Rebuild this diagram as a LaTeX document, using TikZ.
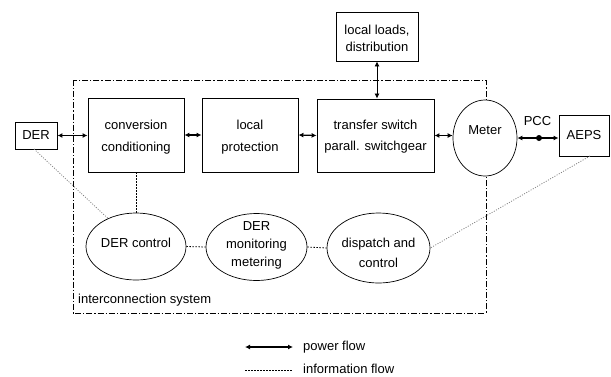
\documentclass[tikz,border=0pt]{standalone}
\usepackage{fontspec}
\setmainfont{Liberation Sans}
\usetikzlibrary{arrows.meta,shapes.geometric}
\begin{document}
\begin{tikzpicture}[x=1pt,y=-1pt,
  every node/.style={font=\fontsize{13}{22}\selectfont, align=center, inner sep=0pt},
  boxnode/.style={draw, line width=0.9pt, rectangle},
  ellnode/.style={draw, line width=0.7pt, ellipse, fill=white},
  tight/.style={font=\fontsize{13}{18}\selectfont},
  power/.style={line width=1.2pt, {Latex[length=5pt,width=5pt]}-{Latex[length=5pt,width=5pt]}},
  powerthin/.style={line width=0.8pt, {Latex[length=5pt,width=5pt]}-{Latex[length=5pt,width=5pt]}},
  info/.style={line width=0.8pt, dash pattern=on 1.5pt off 1.5pt},
  infogray/.style={line width=0.8pt, gray, dash pattern=on 1pt off 1.5pt},
  frame/.style={line width=0.8pt, dash pattern=on 6pt off 2pt on 1.2pt off 2pt}]
\useasboundingbox (0,0) rectangle (611,376);
\draw[frame] (73,80) rectangle (486,313);
\node[boxnode, minimum width=42pt, minimum height=27pt] (der) at (36,135.5) {DER};
\node[boxnode, minimum width=96pt, minimum height=74pt] (conv) at (136,135) {};
\node (convt) at (136,137) {conversion\\conditioning};
\node[boxnode, minimum width=96pt, minimum height=74pt] (prot) at (250,135) {};
\node (prott) at (250,137) {local\\protection};
\node[boxnode, minimum width=117pt, minimum height=73pt] (trans) at (375.5,135.5) {};
\node[font=\fontsize{13}{21}\selectfont] (transt) at (375.5,136.5) {transfer switch\\parall. switchgear};
\node[ellnode, minimum width=64pt, minimum height=76pt] (meter) at (485,138) {};
\node (metert) at (485,130) {Meter};
\node[boxnode, minimum width=50pt, minimum height=41pt] (aeps) at (584,135.5) {AEPS};
\node[boxnode, minimum width=82pt, minimum height=49pt] (loads) at (377,36.5) {};
\node[font=\fontsize{13}{17}\selectfont] (loadst) at (377,38.5) {local loads,\\distribution};
\node[ellnode, minimum width=100pt, minimum height=67pt] (derc) at (136,246.5) {};
\node (derct) at (136,243) {DER control};
\node[ellnode, minimum width=101pt, minimum height=67pt] (mon) at (256.5,247) {};
\node[tight] (mont) at (256.5,245) {DER\\monitoring\\metering};
\node[ellnode, minimum width=103pt, minimum height=70pt] (disp) at (378.5,248) {};
\node[font=\fontsize{13}{20}\selectfont] (dispt) at (378.5,253) {dispatch and\\control};
\node[anchor=west] (ics) at (78,300) {interconnection system};
\node (pcc) at (537.5,121) {PCC};
\node[circle, fill, minimum size=6pt] (dot) at (539,138) {};
% power flow
\draw[power] (der.east) -- (conv.west |- der.east);
\draw[power] (conv.east) -- (prot.west);
\draw[power] (prot.east) -- (trans.west);
\draw[power] (trans.east) -- (meter.west |- trans.east);
\draw[power] (meter.east |- dot) -- (aeps.west |- dot);
\draw[powerthin] (loads.south) -- (loads.south |- trans.north);
% information flow
\draw[info] (conv.south) -- (derc.north);
\draw[info] (derc.east) -- (mon.west);
\draw[info] (mon.east) -- (disp.west);
\coordinate (derb) at (34,149);
\coordinate (aepsb) at (590,156);
\draw[infogray] (derb) -- (derc.135);
\draw[infogray] (aepsb) -- (disp.east);
% legend
\coordinate (l1a) at (245,347);
\coordinate (l1b) at (293,347);
\coordinate (l2a) at (245,370);
\coordinate (l2b) at (293,370);
\draw[power] (l1a) -- (l1b);
\draw[info] (l2a) -- (l2b);
\node[anchor=west] (lp) at (303,347) {power flow};
\node[anchor=west] (li) at (303,369) {information flow};
\end{tikzpicture}
\end{document}
